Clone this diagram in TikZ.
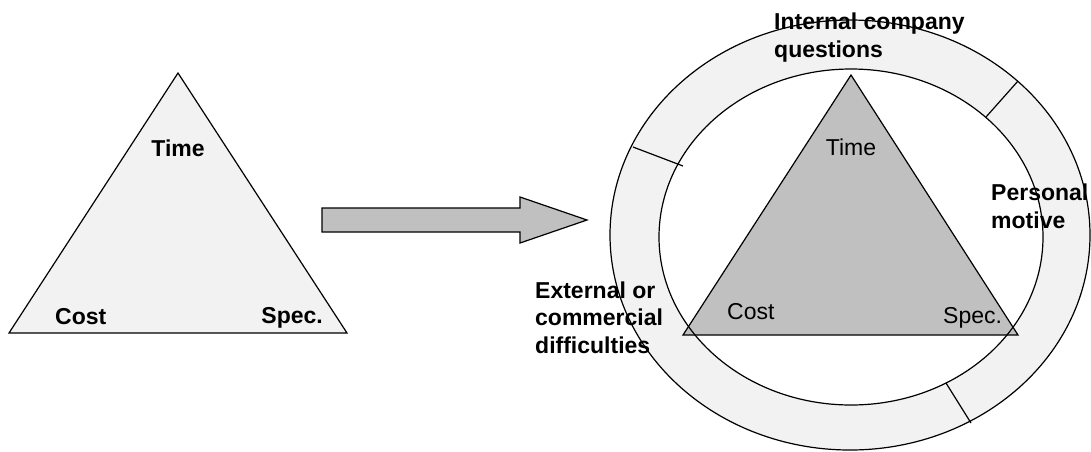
\documentclass[tikz,border=0pt]{standalone}
\usepackage{fontspec}
\setmainfont{Liberation Sans}
\definecolor{ringgray}{HTML}{F2F2F2}
\definecolor{midgray}{HTML}{C0C0C0}
\begin{document}
\begin{tikzpicture}[x=1pt,y=-1pt,
  outline/.style={draw=black,line width=1.2pt,line join=miter},
  boldlab/.style={font=\fontsize{23}{27.5}\selectfont\bfseries,inner sep=0pt,align=left},
  plainlab/.style={font=\fontsize{23}{27.5}\selectfont,inner sep=0pt}]
\useasboundingbox (0,0) rectangle (1091,451);
% left triangle
\coordinate (lt) at (178,73);
\coordinate (ll) at (9,333);
\coordinate (lr) at (347,333);
\filldraw[outline,fill=ringgray] (lt) -- (lr) -- (ll) -- cycle;
\node[boldlab,anchor=base] (ltime) at (178,156) {Time};
\node[boldlab,anchor=base west] (lcost) at (55,324) {Cost};
\node[boldlab,anchor=base east] (lspec) at (323,323) {Spec.};
% block arrow
\filldraw[outline,fill=midgray] (322,208) -- (520,208) -- (520,197) -- (587,220)
  -- (520,243) -- (520,232) -- (322,232) -- cycle;
% ring fills
\fill[ringgray] (850,235) ellipse [x radius=240,y radius=215];
\fill[white] (851,237) ellipse [x radius=192,y radius=168];
% right triangle
\coordinate (rt) at (851,75);
\coordinate (rl) at (683,335);
\coordinate (rr) at (1018,335);
\fill[midgray] (rt) -- (rr) -- (rl) -- cycle;
% labels (base anchor = baseline of the last line)
\node[boldlab,anchor=base west] (internal) at (774,57) {Internal company\\questions};
\node[boldlab,anchor=base west] (personal) at (991,228) {Personal\\motive};
\node[boldlab,anchor=base west] (external) at (535,353) {External or\\commercial\\difficulties};
\node[plainlab,anchor=base] (rtime) at (851,155) {Time};
\node[plainlab,anchor=base west] (rcost) at (727,319) {Cost};
\node[plainlab,anchor=base west] (rspec) at (943,323) {Spec.};
% outlines
\draw[outline] (rt) -- (rr) -- (rl) -- cycle;
\draw[outline] (850,235) ellipse [x radius=240,y radius=215];
\draw[outline] (851,237) ellipse [x radius=192,y radius=168];
\coordinate (d1a) at (633,147); \coordinate (d1b) at (683,166);
\coordinate (d2a) at (1018,81); \coordinate (d2b) at (986,117);
\coordinate (d3a) at (946,383); \coordinate (d3b) at (971,423);
\draw[outline] (d1a) -- (d1b);
\draw[outline] (d2a) -- (d2b);
\draw[outline] (d3a) -- (d3b);
\end{tikzpicture}
\end{document}
